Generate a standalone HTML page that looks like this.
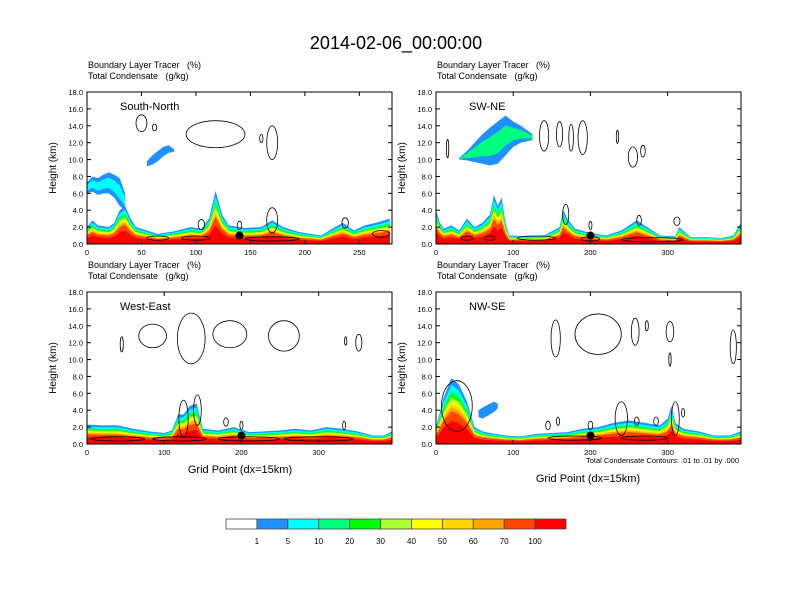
<!DOCTYPE html>
<html><head><meta charset="utf-8">
<style>
body{margin:0;background:#fff;}
svg{display:block;font-family:"Liberation Sans",sans-serif;}
svg text{white-space:pre;}
</style></head>
<body>
<svg id="fig" width="792" height="612" viewBox="0 0 792 612">
<rect width="792" height="612" fill="#fff"/>
<text x="396" y="49" font-size="18" text-anchor="middle">2014-02-06_00:00:00</text>
</svg>
<script>
// ---- data ----
const colors = ["#1e90ff","#00ffff","#00ff7f","#00ff00","#adff2f","#ffff00","#ffd700","#ffa500","#ff4500","#ff0000"];
const bandFrac = [1.0,0.9,0.82,0.76,0.71,0.66,0.61,0.56,0.5,0.35];
const cbLabels = ["1","5","10","20","30","40","50","60","70","100"];
const cbColors = ["#ffffff","#1e90ff","#00ffff","#00ff7f","#00ff00","#adff2f","#ffff00","#ffd700","#ffa500","#ff4500","#ff0000"];
const yTicks = [0,2,4,6,8,10,12,14,16,18];

const p1X = [0,5,10,20,25,30,35,40,45,55,65,80,95,105,112,118,124,130,145,160,170,180,195,215,225,235,245,255,265,278];
const p1Top = [2.0,2.8,2.2,2.0,2.5,4.0,4.5,3.0,2.0,1.6,1.2,1.5,2.0,1.8,3.0,6.3,3.5,2.2,1.9,2.0,2.8,2.0,1.4,1.0,1.8,2.5,1.6,2.2,2.5,3.0];
const p2X = [0,5,10,20,30,40,50,60,70,75,80,85,90,95,100,120,140,160,165,170,180,200,220,240,260,270,290,310,315,330,350,370,385,395];
const p2Top = [4.0,2.5,1.8,2.2,1.6,3.0,2.0,2.5,3.5,5.8,4.5,5.5,2.5,1.0,1.0,0.9,1.0,2.0,4.0,3.0,1.8,1.3,1.0,1.6,2.8,2.2,1.0,0.9,2.0,0.8,0.8,0.7,1.0,2.5];
const p3X = [0,20,40,60,80,100,110,118,125,133,142,150,170,190,210,230,250,270,290,310,330,350,370,385,395];
const p3Top = [2.3,2.2,2.2,1.8,1.5,1.3,1.6,3.5,3.5,4.5,4.8,1.8,1.6,2.0,1.4,1.5,1.6,1.8,1.6,2.0,1.8,1.5,1.0,1.0,1.5];
const p4X = [0,10,20,30,40,50,60,70,90,110,130,150,170,190,210,230,250,270,290,300,305,310,320,340,360,380,395];
const p4Top = [2.0,5.5,7.8,7.0,5.0,2.0,1.5,1.3,1.0,0.9,1.2,1.3,1.4,1.8,2.0,2.5,2.8,2.5,2.2,3.0,4.5,2.5,1.8,1.5,1.0,1.0,1.5];

// plumes: x, top, bottom (km)
const plume1X=[0,5,10,15,20,25,30,35];
const plume1Top=[7.3,8.0,7.8,8.2,8.5,8.2,7.8,6.0];
const plume1Bot=[6.0,6.2,5.8,6.0,6.0,5.5,4.5,4.0];
const cloud1X=[55,60,65,70,75,80];
const cloud1Top=[9.8,10.5,11.0,11.5,11.7,11.2];
const cloud1Bot=[9.2,9.4,9.8,10.4,10.8,10.9];
const cloud2X=[30,40,50,60,70,80,90,100,110,125];
const cloud2Top=[10.2,11.0,12.0,13.0,13.8,14.5,15.2,14.5,14.0,13.0];
const cloud2Bot=[10.0,9.9,9.7,9.5,9.3,9.5,10.5,11.5,12.0,12.3];
const cloud4X=[55,60,70,75,80];
const cloud4Top=[4.0,4.3,4.8,5.0,4.8];
const cloud4Bot=[3.2,3.0,3.5,3.8,4.2];

// contour loops: [gx, km, rx(grid), ry(km)]
const c1Loops=[[50,14.3,5,1.0],[62,13.8,2,0.4],[118,13.0,27,1.6],[170,12.0,5,2.0],[160,12.5,1.5,0.5],[105,2.3,3,0.6],[170,2.8,5,1.5],[237,2.5,3,0.6],[140,2.2,2,0.5],[270,1.2,8,0.4],[65,0.7,10,0.25],[100,0.7,13,0.25],[170,0.6,25,0.25]];
const c2Loops=[[15,11.3,1.5,1.1],[140,12.8,6,1.8],[160,13.0,4,1.5],[175,12.6,3,1.6],[190,12.6,6,2.0],[235,12.7,1.5,0.8],[255,10.3,6,1.2],[268,11.0,3,0.7],[168,3.5,4,1.2],[200,2.2,2,0.5],[263,2.8,3,0.6],[312,2.7,4,0.5],[40,0.7,8,0.25],[70,0.7,7,0.25],[130,0.7,25,0.25],[200,0.6,12,0.25],[280,0.5,40,0.25]];
const c3Loops=[[45,11.8,2,0.9],[85,12.8,18,1.4],[135,12.5,18,3.0],[185,13.0,22,1.6],[255,12.8,20,1.8],[335,12.2,1.5,0.5],[352,12.0,4,1.0],[125,3.0,6,2.2],[143,4.0,5,1.8],[180,2.6,3,0.5],[200,2.2,2,0.5],[333,2.2,2,0.5],[40,0.6,35,0.25],[120,0.6,35,0.25],[210,0.6,40,0.25],[300,0.6,45,0.25]];
const c4Loops=[[155,12.5,6,2.2],[210,13.0,30,2.4],[258,13.3,5,1.6],[273,14.0,2,0.6],[303,13.3,5,1.2],[303,10.0,1.5,0.8],[385,11.5,4,2.0],[240,3.0,8,2.0],[27,4.5,20,3.0],[145,2.2,3,0.5],[158,2.7,2,0.5],[260,2.7,3,0.5],[285,2.7,3,0.5],[310,3.0,5,2.0],[320,3.7,2,0.5],[200,2.2,3,0.5],[180,0.7,35,0.25],[270,0.7,30,0.25]];

const dots=[[140,1.0],[200,1.0],[200,1.0],[200,1.0]];
const labels=[["South-North",0,280,[0,50,100,150,200,250]],["SW-NE",0,395,[0,100,200,300]],["West-East",0,395,[0,100,200,300]],["NW-SE",0,395,[0,100,200,300]]];

// ---- drawing ----
const NS="http://www.w3.org/2000/svg";
const svg=document.getElementById('fig');
function mk(tag,attrs,parent){const e=document.createElementNS(NS,tag);for(const k in attrs)e.setAttribute(k,attrs[k]);(parent||svg).appendChild(e);return e;}
const frames=[[87,92],[436,92],[87,292],[436,292]];
const W=305,H=152;
const tops=[[p1X,p1Top],[p2X,p2Top],[p3X,p3Top],[p4X,p4Top]];
const loops=[c1Loops,c2Loops,c3Loops,c4Loops];

frames.forEach((f,i)=>{
  const [x0,y0]=f;const xmax=labels[i][2];
  const sx=g=>x0+g/xmax*W; const sy=k=>y0+H-k/18*H;
  const g=mk('g',{});
  
  
  const t1=mk('text',{x:x0+1,y:y0-24,'font-size':9},g);t1.textContent="Boundary Layer Tracer   (%)";
   
  const t2=mk('text',{x:x0+1,y:y0-13,'font-size':9},g);t2.textContent="Total Condensate   (g/kg)";
   
  const cp=mk('clipPath',{id:'cp'+i},g);mk('rect',{x:x0,y:y0,width:W,height:H},cp);
  const pg=mk('g',{'clip-path':'url(#cp'+i+')'},g);
  const [xs,ts]=tops[i];
  colors.forEach((c,b)=>{
    let d='M'+sx(xs[0])+','+sy(0);
    xs.forEach((x,j)=>{d+=' L'+sx(x)+','+sy(ts[j]*bandFrac[b]);});
    d+=' L'+sx(xs[xs.length-1])+','+sy(0)+'Z';
    const p=mk('path',{d:d,fill:c},pg);
    
    
  });
  function blob(X,T,B,col,core,name){
    let d='M'+sx(X[0])+','+sy(T[0]);
    X.forEach((x,j)=>{d+=' L'+sx(x)+','+sy(T[j]);});
    for(let j=X.length-1;j>=0;j--)d+=' L'+sx(X[j])+','+sy(B[j]);
    const p=mk('path',{d:d+'Z',fill:col},pg);
    
    
    if(!core)return;
    const mid=B.map((b,j)=>(b+T[j])/2);
    let d2='M'+sx(X[0])+','+sy((mid[0]+T[0])/2);
    X.forEach((x,j)=>{d2+=' L'+sx(x)+','+sy((mid[j]+T[j])/2);});
    for(let j=X.length-1;j>=0;j--)d2+=' L'+sx(X[j])+','+sy((mid[j]+B[j])/2);
    const p2=mk('path',{d:d2+'Z',fill:core},pg);
    
    
  }
  if(i===0){blob(plume1X,plume1Top,plume1Bot,'#1e90ff','#00ffff','tracer-plume');blob(cloud1X,cloud1Top,cloud1Bot,'#1e90ff',null,'tracer-cloud');}
  if(i===1){blob(cloud2X,cloud2Top,cloud2Bot,'#1e90ff','#00ff7f','tracer-cloud');}
  if(i===3){blob(cloud4X,cloud4Top,cloud4Bot,'#1e90ff',null,'tracer-cloud');}
  loops[i].forEach(l=>{
    const e=mk('ellipse',{cx:sx(l[0]),cy:sy(l[1]),rx:l[2]/xmax*W,ry:l[3]/18*H,fill:'none',stroke:'#000','stroke-width':0.8},pg);
    
    
  });
  const dt=mk('circle',{cx:sx(dots[i][0]),cy:sy(dots[i][1]),r:4,fill:'#000'},pg);
  
  
  const nm=mk('text',{x:x0+33,y:y0+18,'font-size':11},g);nm.textContent=labels[i][0];
   
  const fr=mk('rect',{x:x0,y:y0,width:W,height:H,fill:'none',stroke:'#000','stroke-width':1},g);
   
  yTicks.forEach(v=>{
    mk('line',{x1:x0,x2:x0+4,y1:sy(v),y2:sy(v),stroke:'#000'},g);
    mk('line',{x1:x0+W,x2:x0+W-4,y1:sy(v),y2:sy(v),stroke:'#000'},g);
    const t=mk('text',{x:x0-4,y:sy(v)+3,'font-size':7.5,'text-anchor':'end'},g);t.textContent=v.toFixed(1);
     
  });
  labels[i][3].forEach(v=>{
    mk('line',{x1:sx(v),x2:sx(v),y1:y0+H,y2:y0+H-4,stroke:'#000'},g);
    mk('line',{x1:sx(v),x2:sx(v),y1:y0,y2:y0+4,stroke:'#000'},g);
    const t=mk('text',{x:sx(v),y:y0+H+11,'font-size':7.5,'text-anchor':'middle'},g);t.textContent=v;
     
  });
  const yt=mk('text',{x:0,y:0,'font-size':10,'text-anchor':'middle',transform:'translate('+(x0-31)+','+(y0+H/2)+') rotate(-90)'},g);
  yt.textContent='Height (km)';
   
});
// x titles
let xt=mk('text',{x:240,y:473,'font-size':11,'text-anchor':'middle'});xt.textContent='Grid Point (dx=15km)';
 
xt=mk('text',{x:588,y:482,'font-size':11,'text-anchor':'middle'});xt.textContent='Grid Point (dx=15km)';
 
const ci=mk('text',{x:739,y:463,'font-size':7.5,'text-anchor':'end'});ci.textContent='Total Condensate Contours: .01 to .01 by .000';
 
// colorbar
const cbx=226,cbw=340/11;
cbColors.forEach((c,k)=>{
  const r=mk('rect',{x:cbx+k*cbw,y:519,width:cbw,height:10,fill:c,stroke:'#444','stroke-width':0.8});
   
});
cbLabels.forEach((l,k)=>{
  const t=mk('text',{x:cbx+(k+1)*cbw,y:544,'font-size':8,'text-anchor':'middle'});t.textContent=l;
   
});
</script>
</body></html>
